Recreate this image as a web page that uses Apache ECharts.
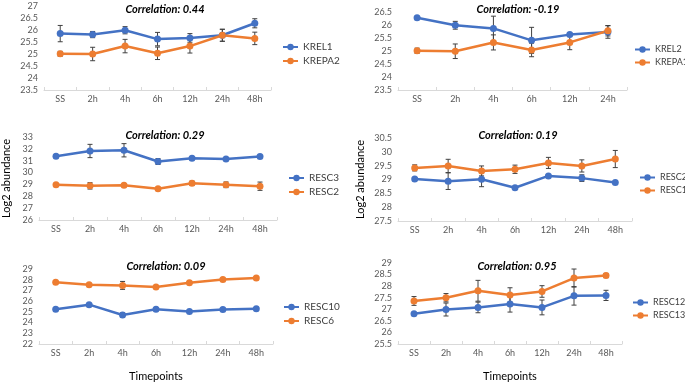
<!DOCTYPE html>
<html>
<head>
<meta charset="utf-8">
<script src="https://cdn.jsdelivr.net/npm/echarts@6/dist/echarts.min.js"></script>
<style>
  html, body { margin: 0; padding: 0; background: #fff; }
  #chart { width: 685px; height: 383px; }
</style>
</head>
<body>
<div id="chart"></div>
<script>
// time points
var cats7 = ["SS", "2h", "4h", "6h", "12h", "24h", "48h"];
var cats6 = ["SS", "2h", "4h", "6h", "12h", "24h"];

// top left
var krel1 = [25.85, 25.81, 25.99, 25.62, 25.67, 25.78, 26.28];
var krel1Err = [0.34, 0.13, 0.15, 0.28, 0.18, 0.25, 0.19];
var krepa2 = [25.01, 25.0, 25.33, 25.03, 25.33, 25.78, 25.65];
var krepa2Err = [0.1, 0.28, 0.28, 0.26, 0.29, 0.25, 0.26];

// top right
var krel2 = [26.28, 25.99, 25.87, 25.41, 25.63, 25.73];
var krel2Err = [0.03, 0.15, 0.47, 0.5, 0.05, 0.24];
var krepa1 = [25.01, 24.99, 25.33, 25.04, 25.33, 25.78];
var krepa1Err = [0.1, 0.28, 0.29, 0.26, 0.28, 0.2];

// middle left
var resc3 = [31.38, 31.82, 31.88, 30.93, 31.21, 31.15, 31.35];
var resc3Err = [0.05, 0.56, 0.56, 0.25, 0.08, 0.08, 0.08];
var resc2a = [28.97, 28.88, 28.94, 28.63, 29.1, 28.97, 28.85];
var resc2aErr = [0.05, 0.27, 0.1, 0.05, 0.18, 0.24, 0.35];

// middle right
var resc2b = [29.02, 28.94, 29.01, 28.7, 29.13, 29.05, 28.89];
var resc2bErr = [0.03, 0.3, 0.27, 0.03, 0.05, 0.12, 0.03];
var resc1 = [29.42, 29.49, 29.31, 29.37, 29.6, 29.49, 29.74];
var resc1Err = [0.11, 0.24, 0.18, 0.15, 0.2, 0.22, 0.31];

// bottom left
var resc10 = [25.25, 25.67, 24.71, 25.25, 25.04, 25.22, 25.28];
var resc10Err = [0.05, 0.05, 0.2, 0.05, 0.05, 0.05, 0.05];
var resc6 = [27.77, 27.53, 27.47, 27.32, 27.71, 28.01, 28.16];
var resc6Err = [0.05, 0.05, 0.37, 0.05, 0.05, 0.05, 0.05];

// bottom right
var resc12a = [26.81, 26.99, 27.08, 27.23, 27.08, 27.58, 27.6];
var resc12aErr = [0.05, 0.28, 0.23, 0.35, 0.32, 0.4, 0.22];
var resc13 = [27.36, 27.5, 27.8, 27.62, 27.77, 28.35, 28.46];
var resc13Err = [0.19, 0.18, 0.45, 0.31, 0.25, 0.39, 0.09];

var BLUE = "#4472C4";
var ORANGE = "#ED7D31";
var FONT = "Lato, 'Open Sans', sans-serif";

var panels = [
  { grid: { left: 44, top: 6, width: 227, height: 84 }, min: 23.5, max: 27, interval: 0.5, cats: cats7,
    title: "Correlation: 0.44", tx: 160, ty: -1, lg: { left: 282, top: 42, fs: 10 },
    lines: [["KREL1", krel1, krel1Err, BLUE], ["KREPA2", krepa2, krepa2Err, ORANGE]] },
  { grid: { left: 398, top: 12, width: 229, height: 78 }, min: 23.5, max: 26.5, interval: 0.5, cats: cats6,
    title: "Correlation: -0.19", tx: 513, ty: -1, lg: { left: 634, top: 45, fs: 9 },
    lines: [["KREL2", krel2, krel2Err, BLUE], ["KREPA1", krepa1, krepa1Err, ORANGE]] },
  { grid: { left: 39, top: 137, width: 238, height: 83 }, min: 26, max: 33, interval: 1, cats: cats7,
    title: "Correlation: 0.29", tx: 160, ty: 125, lg: { left: 288, top: 173, fs: 10 }, yName: true, yGap: 27,
    lines: [["RESC3", resc3, resc3Err, BLUE], ["RESC2", resc2a, resc2aErr, ORANGE]] },
  { grid: { left: 398, top: 138, width: 234, height: 83 }, min: 27.5, max: 30.5, interval: 0.5, cats: cats7,
    title: "Correlation: 0.19", tx: 513, ty: 125, lg: { left: 639, top: 173, fs: 9 }, yName: true, yGap: 32,
    lines: [["RESC2 ", resc2b, resc2bErr, BLUE], ["RESC1", resc1, resc1Err, ORANGE]] },
  { grid: { left: 39, top: 269, width: 234, height: 78 }, min: 22, max: 29, interval: 1, cats: cats7,
    title: "Correlation: 0.09", tx: 161, ty: 256, lg: { left: 283, top: 302, fs: 10 }, xName: true,
    lines: [["RESC10", resc10, resc10Err, BLUE], ["RESC6", resc6, resc6Err, ORANGE]] },
  { grid: { left: 398, top: 263, width: 224, height: 84 }, min: 25.5, max: 29, interval: 0.5, cats: cats7,
    title: "Correlation: 0.95", tx: 512, ty: 256, lg: { left: 632, top: 298, fs: 9 }, xName: true,
    lines: [["RESC12a", resc12a, resc12aErr, BLUE], ["RESC13", resc13, resc13Err, ORANGE]] }
];

function errorBar(params, api) {
  var x = api.value(0);
  var lo = api.coord([x, api.value(1)]);
  var hi = api.coord([x, api.value(2)]);
  var w = 2.5;
  var st = { stroke: "#404040", lineWidth: 1 };
  return {
    type: "group",
    children: [
      { type: "line", shape: { x1: lo[0], y1: lo[1], x2: hi[0], y2: hi[1] }, style: st },
      { type: "line", shape: { x1: lo[0] - w, y1: lo[1], x2: lo[0] + w, y2: lo[1] }, style: st },
      { type: "line", shape: { x1: hi[0] - w, y1: hi[1], x2: hi[0] + w, y2: hi[1] }, style: st }
    ]
  };
}

var option = {
  animation: false,
  textStyle: { fontFamily: FONT },
  title: [], legend: [], grid: [], xAxis: [], yAxis: [], series: []
};

panels.forEach(function(p, i) {
  option.grid.push(p.grid);
  option.title.push({
    text: p.title, left: p.tx, top: p.ty, textAlign: "center",
    textStyle: { fontFamily: FONT, fontSize: 11, fontWeight: "bold", fontStyle: "italic", color: "#000" }
  });
  option.legend.push({
    data: p.lines.map(function(l) { return l[0]; }),
    left: p.lg.left, top: p.lg.top, orient: "vertical", padding: 0,
    itemWidth: 15, itemHeight: 8, itemGap: 4, selectedMode: false,
    formatter: function(n) { return n.trim(); },
    textStyle: { fontFamily: FONT, fontSize: p.lg.fs, color: "#404040" }
  });
  option.xAxis.push({
    type: "category", gridIndex: i, data: p.cats,
    name: p.xName ? "Timepoints" : "", nameLocation: "middle", nameGap: 27,
    nameTextStyle: { fontFamily: FONT, fontSize: 11, color: "#000" },
    axisLine: { lineStyle: { color: "#D9D9D9" } },
    axisTick: { show: true, inside: true, length: 3, lineStyle: { color: "#D9D9D9" } },
    axisLabel: { fontFamily: FONT, fontSize: 9, color: "#595959", margin: 5 }
  });
  option.yAxis.push({
    type: "value", gridIndex: i, min: p.min, max: p.max, interval: p.interval,
    name: p.yName ? "Log2 abundance" : "", nameLocation: "middle", nameGap: p.yGap || 30, nameRotate: 90,
    nameTextStyle: { fontFamily: FONT, fontSize: 11, color: "#000" },
    splitLine: { show: false }, axisLine: { show: false }, axisTick: { show: false },
    axisLabel: { fontFamily: FONT, fontSize: 9, color: "#595959", margin: 6 }
  });
  p.lines.forEach(function(l) {
    option.series.push({
      type: "custom", xAxisIndex: i, yAxisIndex: i, z: 1,
      renderItem: errorBar,
      encode: { x: 0, y: [1, 2] },
      data: l[2].map(function(e, k) { return [k, l[1][k] - e, l[1][k] + e]; })
    });
  });
  p.lines.forEach(function(l) {
    option.series.push({
      name: l[0], type: "line", xAxisIndex: i, yAxisIndex: i, z: 3,
      data: l[1], symbol: "circle", symbolSize: 7,
      lineStyle: { width: 2.5, color: l[3] },
      itemStyle: { color: l[3] }
    });
  });
});

var chart = echarts.init(document.getElementById("chart"));
chart.setOption(option);
</script>
</body>
</html>
